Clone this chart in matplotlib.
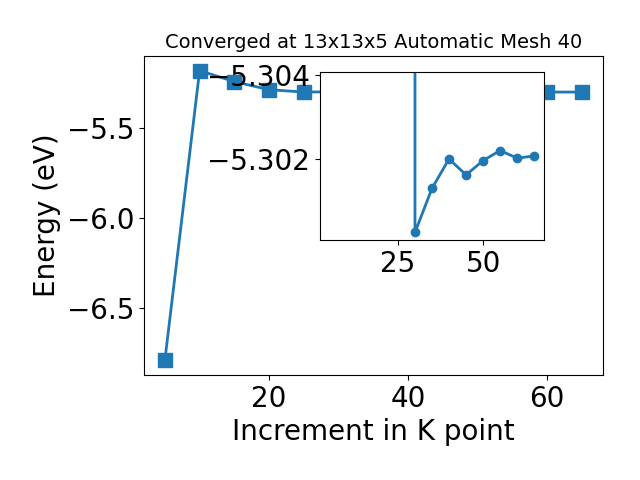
import matplotlib
matplotlib.use('Agg')
import matplotlib.pyplot as plt

# k-point increments and total energies (eV)
kpts = [5, 10, 15, 20, 25, 30, 35, 40, 45, 50, 55, 60, 65]
energy = [-6.794, -5.183, -5.244, -5.289, -5.3020, -5.30025, -5.30130,
          -5.30200, -5.30162, -5.30196, -5.30220, -5.30202, -5.30207]

# inset series (zoom on the converged region)
inset_k = [30, 30, 35, 40, 45, 50, 55, 60, 65]
inset_e = [-5.3200, -5.30025, -5.30130, -5.30200, -5.30162, -5.30196,
           -5.30220, -5.30202, -5.30207]

fig = plt.figure(figsize=(6.4, 4.8), dpi=100)
ax = fig.add_axes([0.225, 0.219, 0.717, 0.664])
ax.plot(kpts, energy, marker='s', markersize=10, linewidth=2, color='#1f77b4')
ax.set_title('Converged at 13x13x5 Automatic Mesh 40', fontsize=14)
ax.set_xlabel('Increment in K point', fontsize=20)
ax.set_ylabel('Energy (eV)', fontsize=20)
ax.tick_params(labelsize=20)
ax.set_yticks([-6.5, -6.0, -5.5])

# inset
ins = fig.add_axes([0.5, 0.5, 0.35, 0.35])
ins.plot(inset_k, inset_e, marker='o', markersize=6, linewidth=2, color='#1f77b4')
ins.set_xlim(2.1, 67.9)
ins.set_ylim(-5.30007, -5.30407)
ins.set_xticks([25, 50])
ins.set_yticks([-5.304, -5.302])
ins.tick_params(labelsize=20)

fig.savefig('out.png', dpi=100)
